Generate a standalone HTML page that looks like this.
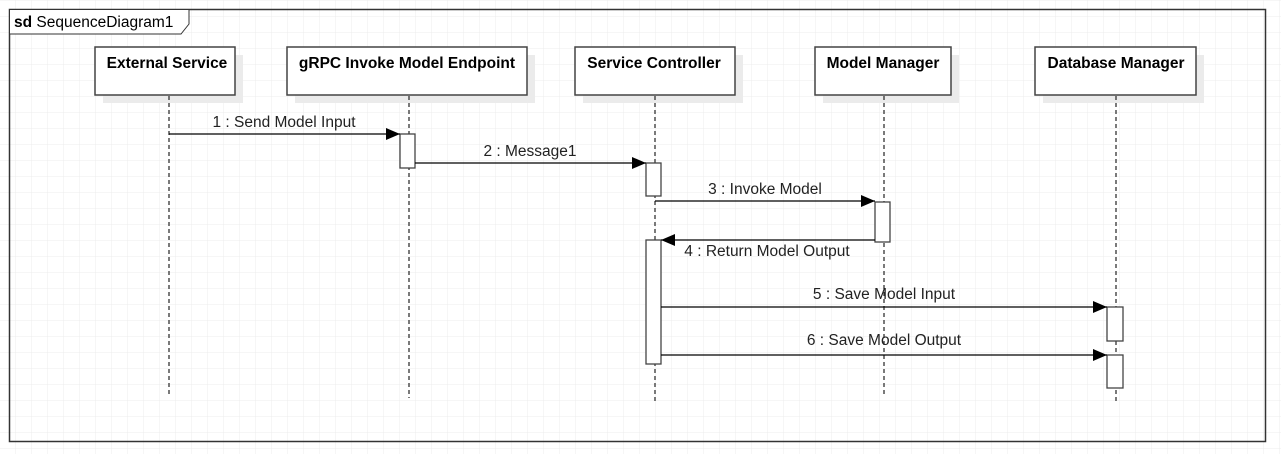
<!DOCTYPE html>
<html><head><meta charset="utf-8"><style>
html,body{margin:0;padding:0;background:#fff;}
svg{display:block;font-family:"Liberation Sans",sans-serif;}
</style></head><body>
<svg width="1281" height="454" viewBox="0 0 1281 454" xmlns="http://www.w3.org/2000/svg">
<defs>
<pattern id="g" x="15" y="0" width="16" height="16" patternUnits="userSpaceOnUse">
<path d="M0 0H16M0 0V16" stroke="#ececec" stroke-width="1" fill="none"/>
</pattern>
<marker id="a" markerWidth="14" markerHeight="12" refX="14" refY="6" orient="auto" markerUnits="userSpaceOnUse">
<path d="M0 0L14 6L0 12Z" fill="#000"/>
</marker>
</defs>
<rect width="1281" height="454" fill="url(#g)"/>
<rect x="9.5" y="9.5" width="1256" height="432" fill="none" stroke="#333" stroke-width="1.5"/>
<path d="M9.5 9.5H189L189 24L181 34H9.5Z" fill="#fff" stroke="#333" stroke-width="1"/>
<text x="14" y="27" font-size="15.5" fill="#000"><tspan font-weight="bold">sd</tspan> SequenceDiagram1</text>

<g fill="#ebebeb">
<rect x="103" y="55" width="140" height="48"/>
<rect x="295" y="55" width="240" height="48"/>
<rect x="583" y="55" width="160" height="48"/>
<rect x="823" y="55" width="136" height="48"/>
<rect x="1043" y="55" width="161" height="48"/>
</g>
<g fill="#fff" stroke="#444" stroke-width="1.5">
<rect x="95" y="47" width="140" height="48"/>
<rect x="287" y="47" width="240" height="48"/>
<rect x="575" y="47" width="160" height="48"/>
<rect x="815" y="47" width="136" height="48"/>
<rect x="1035" y="47" width="161" height="48"/>
</g>
<g font-size="15.5" font-weight="bold" text-anchor="middle" fill="#000">
<text x="167" y="68">External Service</text>
<text x="407" y="68">gRPC Invoke Model Endpoint</text>
<text x="654" y="68">Service Controller</text>
<text x="883" y="68">Model Manager</text>
<text x="1116" y="68">Database Manager</text>
</g>
<g stroke="#333" stroke-width="1.3" stroke-dasharray="4,3">
<line x1="169" y1="96" x2="169" y2="395"/>
<line x1="409" y1="96" x2="409" y2="398"/>
<line x1="655" y1="96" x2="655" y2="402"/>
<line x1="884" y1="96" x2="884" y2="395"/>
<line x1="1116" y1="96" x2="1116" y2="402"/>
</g>
<g fill="#fff" stroke="#444" stroke-width="1.3">
<rect x="400" y="134" width="15" height="34"/>
<rect x="646" y="163" width="15" height="33"/>
<rect x="646" y="240" width="15" height="124"/>
<rect x="875" y="202" width="15" height="40"/>
<rect x="1107" y="307" width="16" height="34"/>
<rect x="1107" y="355" width="16" height="33"/>
</g>
<g stroke="#000" stroke-width="1.3" marker-end="url(#a)">
<line x1="169" y1="134" x2="400" y2="134"/>
<line x1="415" y1="163" x2="646" y2="163"/>
<line x1="655" y1="201" x2="875" y2="201"/>
<line x1="875" y1="240" x2="661" y2="240"/>
<line x1="661" y1="307" x2="1107" y2="307"/>
<line x1="661" y1="355" x2="1107" y2="355"/>
</g>
<g font-size="15.5" text-anchor="middle" fill="#222">
<text x="284" y="127">1 : Send Model Input</text>
<text x="530" y="156">2 : Message1</text>
<text x="765" y="194">3 : Invoke Model</text>
<text x="767" y="256">4 : Return Model Output</text>
<text x="884" y="299">5 : Save Model Input</text>
<text x="884" y="345">6 : Save Model Output</text>
</g>
</svg>
</body></html>
